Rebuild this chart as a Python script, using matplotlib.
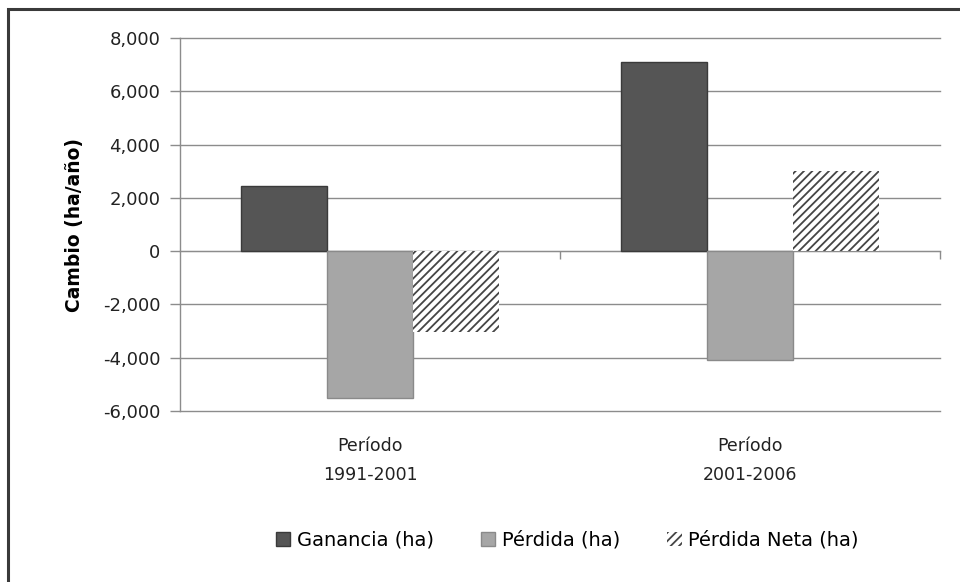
import matplotlib.pyplot as plt
import numpy as np
from matplotlib.patches import Rectangle
from matplotlib.transforms import blended_transform_factory

# datos
periodos = ["Período\n1991-2001", "Período\n2001-2006"]
ganancia = [2450, 7100]
perdida = [-5500, -4100]
perdida_neta = [-3050, 3000]
series = ["Ganancia (ha)", "Pérdida (ha)", "Pérdida Neta (ha)"]
yticks = [-6000, -4000, -2000, 0, 2000, 4000, 6000, 8000]

plt.rcParams['font.family'] = ['DejaVu Sans']
plt.rcParams['hatch.linewidth'] = 1.3

fig = plt.figure(figsize=(9.6, 5.82), dpi=100)
ax = fig.add_axes([0.1875, 0.2938, 0.7915, 0.6409])

x = np.arange(len(periodos))
w = 0.226
ax.bar(x - w, ganancia, w, color='#555555', edgecolor='#3a3a3a', linewidth=1, label=series[0], zorder=3)
ax.bar(x, perdida, w, color='#a6a6a6', edgecolor='#8a8a8a', linewidth=1, label=series[1], zorder=3)
ax.bar(x + w, perdida_neta, w, color='white', edgecolor='#454545', linewidth=0,
       hatch='////', label=series[2], zorder=3)

ax.set_xlim(-0.5, 1.5)
ax.set_ylim(-6000, 8000)
ax.set_yticks(yticks)
ax.set_yticklabels([f"{v:,}" for v in yticks], fontsize=13, color='#222222')
ax.yaxis.grid(True, color='#8c8c8c', linewidth=1)
for gl in ax.get_ygridlines():
    gl.set_clip_on(False)
ax.set_axisbelow(True)
ax.tick_params(axis='y', length=7, width=1, color='#8c8c8c', pad=7)

# eje de categorias en cero
ax.spines['bottom'].set_position(('data', 0))
ax.spines['bottom'].set_color('#8c8c8c')
ax.spines['left'].set_color('#8c8c8c')
ax.spines['left'].set_linewidth(1)
ax.spines['top'].set_visible(False)
ax.spines['right'].set_visible(False)
ax.set_xticks([0.5, 1.5])
ax.set_xticklabels([])
ax.tick_params(axis='x', length=6, width=1, color='#8c8c8c', direction='out')

trans = blended_transform_factory(ax.transData, ax.transAxes)
for xi, lab in zip(x, periodos):
    ax.text(xi, -0.07, lab, transform=trans, ha='center', va='top',
            fontsize=12.5, color='#222222', linespacing=1.75)

ax.set_ylabel("Cambio (ha/año)", fontsize=13.5, fontweight='bold', labelpad=14)

fig.legend(loc='center', bbox_to_anchor=(0.591, 0.072), ncol=3, frameon=False,
           fontsize=14, handlelength=0.75, handleheight=0.75, handletextpad=0.35,
           columnspacing=2.4)

# marco exterior (solo visible arriba e izquierda)
fig.patches.append(Rectangle((8 / 960, -0.05), 1.2, 1.05 - 9 / 582, transform=fig.transFigure,
                             fill=False, edgecolor='#3a3a3a', linewidth=2.2))

fig.savefig("out.png", dpi=100)
